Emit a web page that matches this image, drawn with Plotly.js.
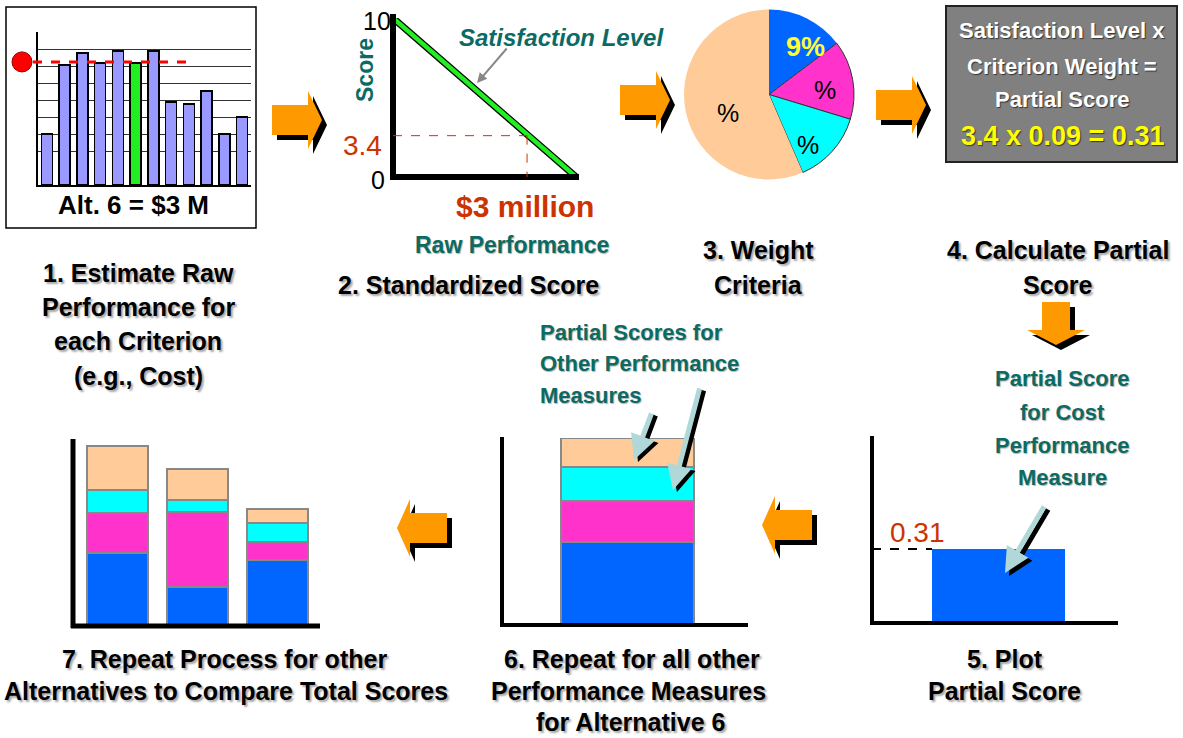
<!DOCTYPE html>
<html><head><meta charset="utf-8">
<script src="https://cdn.plot.ly/plotly-3.0.1.min.js"></script>
<style>html,body{margin:0;padding:0;background:#fff}#chart{width:1183px;height:738px}</style>
</head><body><div id="chart"></div>
<script>
// ---------- data ----------
const rawAlts = [1,2,3,4,5,6,7,8,9,10,11,12];
const rawValues = [3.0, 7.06, 7.76, 7.18, 7.88, 7.18, 7.88, 4.88, 4.76, 5.53, 3.0, 4.0];
const selectedAlt = 6;
const rawThreshold = 7.24;

const rawPerf = [0, 4.1];          // $ million
const scoreLine = [10, 0];
const markRaw = 3;                  // $3 million
const markScore = 2.6;              // where the dashed guide meets the line (as drawn)

const weightLabels = ['Cost', 'Criterion B', 'Criterion C', 'Other'];
const weightValues = [14.7, 15.0, 13.8, 56.5];
const weightText = ['9%', '%', '%', '%'];

const partialCost = [0.31];

const measureNames = ['Cost', 'Measure B', 'Measure C', 'Measure D'];
const alt6Scores = [0.31, 0.153, 0.127, 0.108];

const altNames = ['Alt A', 'Alt B', 'Alt C'];
const altCost = [0.270, 0.144, 0.244];
const altB = [0.148, 0.278, 0.067];
const altC = [0.085, 0.044, 0.070];
const altD = [0.163, 0.115, 0.052];

// ---------- helpers ----------
const W = 1183, H = 738;
const px = x => x / W;
const py = y => 1 - y / H;
const TEAL = '#0b6b64', RUST = '#cc3300', ORANGE = '#ff9900';
const BLUE = '#0066ff', PINK = '#ff33cc', CYAN = '#00ffff', PEACH = '#ffcc99';
const NARROW = 'Liberation Sans Narrow, Arial Narrow, Liberation Sans, Arial, sans-serif';
const ARIAL = 'Liberation Sans, Arial, sans-serif';

const ann = [];
function txt(x, y, t, size, color, opts) {
  opts = opts || {};
  ann.push({
    xref: 'paper', yref: 'paper', x: px(x), y: py(y), text: t, showarrow: false,
    xanchor: opts.xanchor || 'center', yanchor: 'middle', textangle: opts.angle || 0,
    font: {family: opts.family || NARROW, size: size, color: color, shadow: opts.shadow || 'none'}
  });
}
function arrow(tx, ty, hx, hy, color, width, head) {
  ann.push({
    xref: 'paper', yref: 'paper', x: px(hx), y: py(hy), ax: tx - hx, ay: ty - hy,
    text: '', showarrow: true, arrowhead: head, arrowsize: 1, arrowwidth: width,
    arrowcolor: color, standoff: 0
  });
}
function pathFrom(pts) {
  return 'M' + pts.map(p => px(p[0]).toFixed(5) + ',' + py(p[1]).toFixed(5)).join('L') + 'Z';
}
const rightArrow = (x0, cy) => [[x0, cy-15],[x0+36, cy-15],[x0+36, cy-29],[x0+50, cy],[x0+36, cy+29],[x0+36, cy+15],[x0, cy+15]];
const leftArrow = (xt, cy) => [[xt, cy],[xt+13, cy-29],[xt+13, cy-15],[xt+50, cy-15],[xt+50, cy+15],[xt+13, cy+15],[xt+13, cy+29]];
const downArrow = (cx, y0) => [[cx-14, y0],[cx+14, y0],[cx+14, y0+28],[cx+29, y0+28],[cx, y0+43],[cx-29, y0+28],[cx-14, y0+28]];
const shift = pts => pts.map(p => [p[0]+5, p[1]+5]);

const shapes = [];
function line(x0, y0, x1, y1, color, width, dash) {
  shapes.push({type: 'line', xref: 'paper', yref: 'paper', x0: px(x0), y0: py(y0), x1: px(x1), y1: py(y1),
    line: {color: color, width: width, dash: dash || 'solid'}, layer: 'above'});
}
function rect(x0, y0, x1, y1, fill, lc, lw, layer) {
  shapes.push({type: 'rect', xref: 'paper', yref: 'paper', x0: px(x0), y0: py(y0), x1: px(x1), y1: py(y1),
    fillcolor: fill, line: {color: lc, width: lw}, layer: layer || 'below'});
}
function orangeArrow(pts) {
  shapes.push({type: 'path', xref: 'paper', yref: 'paper', path: pathFrom(shift(pts)), fillcolor: '#000', line: {width: 0}, layer: 'above'});
  shapes.push({type: 'path', xref: 'paper', yref: 'paper', path: pathFrom(pts), fillcolor: ORANGE, line: {width: 0}, layer: 'above'});
}

// panel 1 frame
rect(6, 7, 256, 228, '#fff', '#000', 1.5, 'below');
// threshold line and marker
shapes.push({type: 'line', xref: 'paper', yref: 'y', x0: px(33), x1: px(190), y0: rawThreshold, y1: rawThreshold,
  line: {color: '#ff0000', width: 3, dash: 'dash'}, layer: 'above'});
shapes.push({type: 'circle', xref: 'paper', yref: 'y', x0: px(12), x1: px(32), y0: rawThreshold - 0.59, y1: rawThreshold + 0.59,
  fillcolor: '#ff0000', line: {color: '#990000', width: 1}, layer: 'above'});

// panel 2 axes
line(393, 14, 393, 180, '#000', 6);
line(390, 177, 579, 177, '#000', 6);
shapes.push({type: 'line', xref: 'x2', yref: 'y2', x0: 0, x1: markRaw, y0: markScore, y1: markScore,
  line: {color: RUST, width: 1, dash: 'dash'}, layer: 'above'});
shapes.push({type: 'line', xref: 'x2', yref: 'y2', x0: markRaw, x1: markRaw, y0: markScore, y1: 0,
  line: {color: RUST, width: 1, dash: 'dash'}, layer: 'above'});

// gray box
rect(946, 6, 1177, 162, '#808080', '#222', 2, 'below');

// panel 5 axes
line(872, 436, 872, 625, '#000', 4);
line(870, 623, 1118, 623, '#000', 4);
shapes.push({type: 'line', xref: 'paper', yref: 'y3', x0: px(872), x1: px(932), y0: partialCost[0], y1: partialCost[0],
  line: {color: '#000', width: 2, dash: 'dash'}, layer: 'above'});
// panel 6 axes
line(502, 437, 502, 627, '#000', 4);
line(500, 625, 748, 625, '#000', 4);
// panel 7 axes
line(73, 439, 73, 628, '#000', 5);
line(71, 626, 320, 626, '#000', 5);

// orange arrows
orangeArrow(rightArrow(272, 120));
orangeArrow(rightArrow(620, 100));
orangeArrow(rightArrow(876, 105));
orangeArrow(downArrow(1056, 302));
orangeArrow(leftArrow(762, 525));
orangeArrow(leftArrow(397, 528));

// ---------- texts ----------
const SH = '2px 2px 2px rgba(0,0,0,0.35)';
txt(133, 205, '<b>Alt. 6 = $3 M</b>', 26, '#000', {family: ARIAL});
txt(377, 21, '10', 25, '#000', {family: ARIAL});
txt(378, 180, '0', 25, '#000', {family: ARIAL});
txt(365, 70, '<b>Score</b>', 23, TEAL, {family: ARIAL, angle: -90});
txt(362, 145, '3.4', 28, RUST, {family: ARIAL});
txt(525, 206, '<b>$3 million</b>', 30, RUST, {family: ARIAL});
txt(457, 37, '<b><i>Satisfaction Level</i></b>', 24, TEAL, {family: ARIAL, xanchor: 'left'});
txt(512, 245, '<b>Raw Performance</b>', 23, TEAL, {family: NARROW, shadow: '1px 1px 1px rgba(0,0,0,0.3)'});

const BL = (x, y, t) => txt(x, y, '<b>' + t + '</b>', 25, '#000', {shadow: SH});
BL(138, 273, '1. Estimate Raw');
BL(138, 307, 'Performance for');
BL(138, 341, 'each Criterion');
BL(138, 376, '(e.g., Cost)');
BL(468, 285, '2. Standardized Score');
BL(758, 250, '3. Weight');
BL(758, 285, 'Criteria');
BL(1058, 250, '4. Calculate Partial');
BL(1058, 285, 'Score');
BL(224, 659, '7. Repeat Process for other');
BL(226, 691, 'Alternatives to Compare Total Scores');
BL(632, 659, '6. Repeat for all other');
BL(628, 691, 'Performance Measures');
BL(630, 722, 'for Alternative 6');
BL(1005, 659, '5. Plot');
BL(1004, 691, 'Partial Score');

// pie labels
txt(805, 47, '<b>' + weightText[0] + '</b>', 27, '#ffff33', {family: ARIAL});
txt(825, 90, weightText[1], 25, '#000', {family: ARIAL});
txt(808, 145, weightText[2], 25, '#000', {family: ARIAL});
txt(728, 113, weightText[3], 25, '#000', {family: ARIAL});

// gray box text
const WS = '1px 1px 1px rgba(0,0,0,0.6)';
txt(1062, 30, '<b>Satisfaction Level x</b>', 22, '#fff', {shadow: WS});
txt(1062, 66, '<b>Criterion Weight =</b>', 22, '#fff', {shadow: WS});
txt(1062, 99, '<b>Partial Score</b>', 22, '#fff', {shadow: WS});
txt(1062, 136, '<b>3.4 x 0.09 = 0.31</b>', 27, '#ffff00', {shadow: WS});

// panel 5 text
const TS = '1px 1px 1px rgba(0,0,0,0.3)';
txt(1062, 378, '<b>Partial Score</b>', 22, TEAL, {shadow: TS});
txt(1062, 412, '<b>for Cost</b>', 22, TEAL, {shadow: TS});
txt(1062, 445, '<b>Performance</b>', 22, TEAL, {shadow: TS});
txt(1062, 477, '<b>Measure</b>', 22, TEAL, {shadow: TS});
txt(917, 532, '0.31', 28, RUST, {family: ARIAL});

// panel 6 text
txt(538, 332, '<b>Partial Scores for</b>', 22, TEAL, {xanchor: 'left', shadow: TS});
txt(538, 363, '<b>Other Performance</b>', 22, TEAL, {xanchor: 'left', shadow: TS});
txt(538, 395, '<b>Measures</b>', 22, TEAL, {xanchor: 'left', shadow: TS});

// pointer arrows
arrow(508, 47, 477, 83, '#888', 2, 2);
const LB = '#b0d8d8';
arrow(1049, 508, 1009, 576, '#000', 5, 2);
arrow(1045, 505, 1005, 573, LB, 5, 2);
arrow(656, 414, 638, 462, '#000', 5, 2);
arrow(652, 412, 634, 460, LB, 5, 2);
arrow(704, 389, 677, 492, '#000', 5, 2);
arrow(700, 387, 673, 490, LB, 5, 2);

// ---------- traces ----------
const hidden = {showgrid: false, zeroline: false, showticklabels: false, ticks: '', showline: false, fixedrange: true};
const traces = [];
traces.push({type: 'bar', x: rawAlts, y: rawValues, xaxis: 'x', yaxis: 'y', width: 0.62,
  marker: {color: rawAlts.map(a => a === selectedAlt ? '#22ee22' : '#9999ff'), line: {color: '#000', width: 1.5}},
  hoverinfo: 'x+y'});
traces.push({type: 'scatter', mode: 'lines', x: rawPerf, y: scoreLine, xaxis: 'x2', yaxis: 'y2',
  line: {color: '#000', width: 7}, hoverinfo: 'skip'});
traces.push({type: 'scatter', mode: 'lines', x: rawPerf, y: scoreLine, xaxis: 'x2', yaxis: 'y2',
  line: {color: '#22ee22', width: 4.5}, name: 'Satisfaction Level'});
traces.push({type: 'pie', labels: weightLabels, values: weightValues, sort: false, direction: 'clockwise', rotation: 0,
  domain: {x: [px(684), px(854)], y: [py(180), py(9)]}, textinfo: 'none', hoverinfo: 'label+percent',
  marker: {colors: [BLUE, PINK, CYAN, PEACH], line: {color: ['rgba(0,0,0,0)', '#333', '#333', 'rgba(0,0,0,0)'], width: 1}}});
traces.push({type: 'bar', x: [0], y: partialCost, xaxis: 'x3', yaxis: 'y3', width: [1],
  marker: {color: BLUE, line: {width: 0}}, name: 'Cost'});
const segColors = [BLUE, PINK, CYAN, PEACH];
measureNames.forEach((m, i) => traces.push({type: 'bar', x: [0], y: [alt6Scores[i]], xaxis: 'x4', yaxis: 'y4', width: [1],
  name: m, marker: {color: segColors[i], line: {color: '#888', width: 1.5}}}));
[altCost, altB, altC, altD].forEach((arr, i) => traces.push({type: 'bar', x: altNames, y: arr, xaxis: 'x5', yaxis: 'y5', width: 0.76,
  name: measureNames[i], marker: {color: segColors[i], line: {color: '#888', width: 1.5}}}));

const layout = {
  width: W, height: H, margin: {l: 0, r: 0, t: 0, b: 0}, paper_bgcolor: '#fff', plot_bgcolor: 'rgba(0,0,0,0)',
  showlegend: false, barmode: 'stack', hovermode: 'closest',
  xaxis: Object.assign({}, hidden, {domain: [px(38), px(251)], range: [0.5, 12.5], anchor: 'y', showline: true, linecolor: '#000', linewidth: 1.5}),
  yaxis: Object.assign({}, hidden, {domain: [py(185), py(32)], range: [0, 9], anchor: 'x', showline: true, linecolor: '#000', linewidth: 1.5,
    showgrid: true, gridcolor: '#333', gridwidth: 1, tickvals: [2, 3, 4, 5, 6, 7, 8, 9]}),
  xaxis2: Object.assign({}, hidden, {domain: [px(393), px(578)], range: [0, 4.14], anchor: 'y2'}),
  yaxis2: Object.assign({}, hidden, {domain: [py(177), py(18)], range: [0, 10], anchor: 'x2'}),
  xaxis3: Object.assign({}, hidden, {domain: [px(872), px(1118)], range: [-0.951, 0.898], anchor: 'y3'}),
  yaxis3: Object.assign({}, hidden, {domain: [py(623), py(437)], range: [0, 0.78], anchor: 'x3'}),
  xaxis4: Object.assign({}, hidden, {domain: [px(502), px(748)], range: [-0.944, 0.906], anchor: 'y4'}),
  yaxis4: Object.assign({}, hidden, {domain: [py(625), py(438)], range: [0, 0.698], anchor: 'x4'}),
  xaxis5: Object.assign({}, hidden, {domain: [px(73), px(320)], range: [-0.556, 2.53], anchor: 'y5', type: 'category'}),
  yaxis5: Object.assign({}, hidden, {domain: [py(626), py(440)], range: [0, 0.688], anchor: 'x5'}),
  shapes: shapes, annotations: ann
};
Plotly.newPlot('chart', traces, layout, {displayModeBar: false, staticPlot: false});
</script></body></html>
